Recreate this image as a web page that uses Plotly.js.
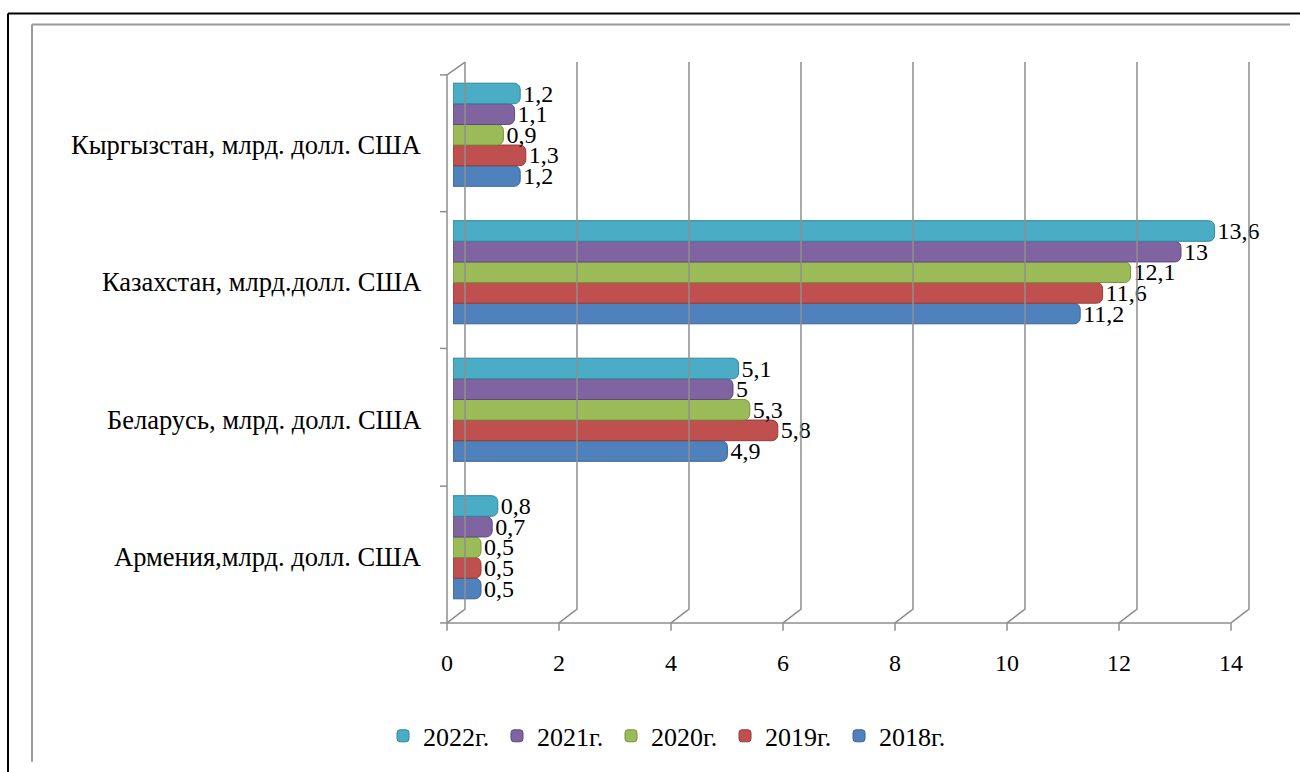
<!DOCTYPE html>
<html>
<head>
<meta charset="utf-8">
<script src="https://cdn.plot.ly/plotly-3.0.1.min.js"></script>
<style>html,body{margin:0;padding:0;background:#fff;}#chart{width:1300px;height:772px;}</style>
</head>
<body>
<div id="chart"></div>
<script>
// ---- data ----
const categories = ["Армения,млрд. долл. США", "Беларусь, млрд. долл. США", "Казахстан, млрд.долл. США", "Кыргызстан, млрд. долл. США"];
const years = ["2018г.", "2019г.", "2020г.", "2021г.", "2022г."];
const v2018 = [0.5, 4.9, 11.2, 1.2];
const v2019 = [0.5, 5.8, 11.6, 1.3];
const v2020 = [0.5, 5.3, 12.1, 0.9];
const v2021 = [0.7, 5.0, 13.0, 1.1];
const v2022 = [0.8, 5.1, 13.6, 1.2];
const xTicks = [0, 2, 4, 6, 8, 10, 12, 14];

const series = [v2018, v2019, v2020, v2021, v2022];
const colors = ["#4F81BD", "#C0504D", "#9BBB59", "#8064A2", "#4BACC6"];
const lineColors = ["#3A6496", "#963B38", "#76923C", "#5F4B7A", "#31859C"];

// plot area in pixels
const W = 1300, H = 772;
const L = 453, R = 1237, T = 66, B = 621;
const px = x => (x - L) / (R - L);
const py = y => (B - y) / (B - T);
const unit = (R - L) / 14;

const font = "Liberation Serif";

const traces = series.map((vals, i) => ({
  type: "bar",
  orientation: "h",
  name: years[i],
  y: categories,
  x: vals,
  text: vals.map(v => String(v).replace(".", ",")),
  textposition: "outside",
  constraintext: "none",
  cliponaxis: false,
  textfont: {family: font, size: 24, color: "#000"},
  marker: {color: colors[i], line: {color: lineColors[i], width: 1}, cornerradius: 6},
  hoverinfo: "x+name"
}));

const grey = "#8E8E8E";
const shapes = [];
// outer frames
shapes.push({type: "line", xref: "paper", yref: "paper", x0: px(8), x1: px(1305), y0: py(13), y1: py(13), line: {color: "#000", width: 2}});
shapes.push({type: "line", xref: "paper", yref: "paper", x0: px(8), x1: px(8), y0: py(13), y1: py(780), line: {color: "#000", width: 2}});
shapes.push({type: "line", xref: "paper", yref: "paper", x0: px(32), x1: px(1290), y0: py(24), y1: py(24), line: {color: "#9A9A9A", width: 2}});
shapes.push({type: "line", xref: "paper", yref: "paper", x0: px(32), x1: px(32), y0: py(24), y1: py(768), line: {color: "#9A9A9A", width: 2}});

// 3D frame: back-wall gridlines + floor slants + front ticks
xTicks.forEach(t => {
  const xf = L + t * unit - 6;   // front
  const xb = L + t * unit + 12;  // back
  shapes.push({type: "path", xref: "paper", yref: "paper",
    path: `M ${px(xb)},${py(62)} L ${px(xb)},${py(614)} L ${px(xf)},${py(628)}`,
    line: {color: grey, width: 1.5}});
  shapes.push({type: "line", xref: "paper", yref: "paper", x0: px(xf), x1: px(xf), y0: py(628), y1: py(636), line: {color: grey, width: 1.5}});
});
// front floor line
shapes.push({type: "line", xref: "paper", yref: "paper", x0: px(L - 6), x1: px(L + 14 * unit - 6), y0: py(628), y1: py(628), line: {color: grey, width: 1.5}});
// front left axis
shapes.push({type: "path", xref: "paper", yref: "paper",
  path: `M ${px(447)},${py(628)} L ${px(447)},${py(75)} L ${px(465)},${py(62)}`,
  line: {color: grey, width: 1.5}});
// category ticks on front axis
[75, 213, 351, 490, 628].forEach(yy => {
  shapes.push({type: "line", xref: "paper", yref: "paper", x0: px(440), x1: px(447), y0: py(yy), y1: py(yy), line: {color: grey, width: 1.5}});
});

// category labels (front-axis position, slightly below band centre)
const annotations = categories.map(c => ({
  text: c, xref: "paper", yref: "y", x: px(423), y: c, xanchor: "right", yanchor: "middle",
  yshift: -10, showarrow: false, font: {family: font, size: 26.5, color: "#000"}
}));

const layout = {
  width: W, height: H,
  margin: {l: L, r: W - R, t: T, b: H - B},
  paper_bgcolor: "#fff", plot_bgcolor: "rgba(0,0,0,0)",
  barmode: "group",
  bargap: 0.25, bargroupgap: 0,
  font: {family: font, size: 24, color: "#000"},
  showlegend: true,
  legend: {orientation: "h", traceorder: "reversed", x: px(383), xanchor: "left", y: py(742), yanchor: "middle",
    font: {family: font, size: 26, color: "#000"}, entrywidth: 69, itemwidth: 30},
  xaxis: {range: [0, 14], tickvals: xTicks, ticktext: xTicks.map(String), showgrid: false, zeroline: false,
    showline: false, ticks: "", ticklabelstandoff: 30, ticklabelshift: -6, tickfont: {family: font, size: 24, color: "#000"}},
  yaxis: {type: "category", categoryarray: categories, showgrid: false, zeroline: false, showline: false,
    ticks: "", showticklabels: false},
  annotations: annotations,
  shapes: shapes
};

Plotly.newPlot("chart", traces, layout, {displayModeBar: false, staticPlot: true});
</script>
</body>
</html>
